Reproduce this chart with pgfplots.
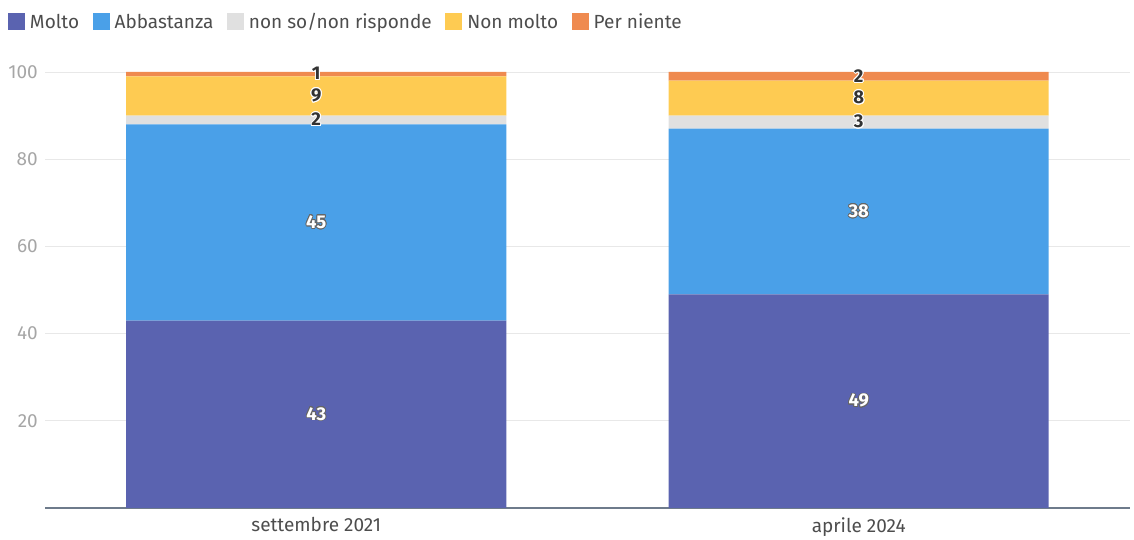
\documentclass[border=0pt]{standalone}
\usepackage{pgfplots}
\pgfplotsset{compat=1.18}
\usepackage{fontspec}
\setmainfont{Fira Sans}
\usepackage{contour}
\contourlength{0.9pt}
\definecolor{cMolto}{HTML}{5A63B0}
\definecolor{cAbb}{HTML}{4AA0E8}
\definecolor{cNS}{HTML}{E0E0E0}
\definecolor{cNM}{HTML}{FECB52}
\definecolor{cPN}{HTML}{EF8A4F}
\definecolor{axisline}{HTML}{6E7B8B}
\definecolor{gridc}{HTML}{E8E8E8}
\definecolor{ylab}{HTML}{A6A6A6}
\definecolor{xlab}{HTML}{4D4D4D}
\definecolor{lab}{HTML}{333333}
\definecolor{legtext}{HTML}{4D4D4D}
\begin{document}
\begin{tikzpicture}
\useasboundingbox (0,0) rectangle (1134bp,540bp);
\pgfplotsset{
  common/.style={
    at={(45bp,32bp)}, anchor=south west,
    scale only axis, width=1085bp, height=436bp,
    xmin=-0.5, xmax=1.5, ymin=0, ymax=100,
  }
}
\begin{axis}[common,
  ybar stacked, bar width=380bp,
  axis x line*=bottom, axis y line*=left,
  y axis line style={draw=none},
  x axis line style={draw=axisline, line width=1.2bp, -},
  xtick={0,1}, xticklabels={settembre 2021, aprile 2024},
  ytick={20,40,60,80,100},
  major tick length=0pt,
  ymajorgrids, grid style={gridc, line width=0.8bp},
  /pgf/number format/assume math mode=true,
  yticklabel style={font=\fontsize{19bp}{22bp}\selectfont, color=ylab, inner xsep=0pt, xshift=-7bp},
  xticklabel style={font=\fontsize{19bp}{22bp}\selectfont, color=xlab, yshift=-6bp},
  legend columns=5,
  legend style={at={(rel axis cs:0,1)}, anchor=west, xshift=-37bp, yshift=50bp,
    draw=none, fill=none, inner sep=0pt, outer sep=0pt,
    font=\fontsize{19bp}{22bp}\selectfont\color{legtext},
    /tikz/every even column/.append style={column sep=8.5bp},
    nodes={inner xsep=5bp, inner ysep=0pt}},
  legend image code/.code={\fill[#1] (0bp,-8.5bp) rectangle (17bp,8.5bp);},
]
\addplot[fill=cMolto, draw=none] coordinates {(0,43) (1,49)};
\addplot[fill=cAbb, draw=none] coordinates {(0,45) (1,38)};
\addplot[fill=cNS, draw=none] coordinates {(0,2) (1,3)};
\addplot[fill=cNM, draw=none] coordinates {(0,9) (1,8)};
\addplot[fill=cPN, draw=none] coordinates {(0,1) (1,2)};
\legend{Molto, Abbastanza, non so/non risponde, Non molto, Per niente}
\end{axis}
\begin{axis}[common, hide axis]
\addplot[only marks, mark=none, point meta=explicit symbolic,
  nodes near coords={\contourlength{0.8pt}\contour{black!60}{\textcolor{white}{\pgfplotspointmeta}}},
  every node near coord/.style={anchor=center, font=\bfseries\fontsize{18.5bp}{21bp}\selectfont}]
  coordinates {(0,21.5)[43] (0,65.5)[45] (1,24.5)[49] (1,68)[38]};
\addplot[only marks, mark=none, point meta=explicit symbolic,
  nodes near coords={\contourlength{1pt}\contour{white}{\textcolor{lab}{\pgfplotspointmeta}}},
  every node near coord/.style={anchor=center, font=\bfseries\fontsize{18.5bp}{21bp}\selectfont}]
  coordinates {(0,89)[2] (0,94.5)[9] (0,99.5)[1] (1,88.5)[3] (1,94)[8] (1,99)[2]};
\end{axis}
\end{tikzpicture}
\end{document}
